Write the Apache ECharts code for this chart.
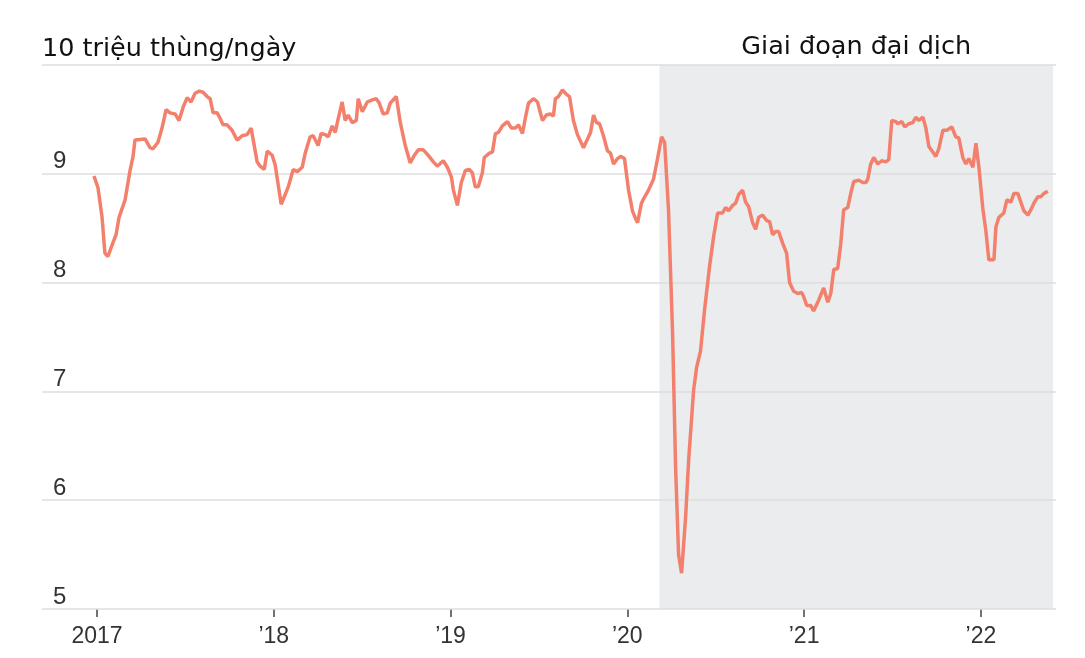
<!DOCTYPE html>
<html>
<head>
<meta charset="utf-8">
<script src="https://cdn.jsdelivr.net/npm/echarts@6/dist/echarts.min.js"></script>
<style>
  html, body { margin: 0; padding: 0; background: #fff; }
  #chart { width: 1085px; height: 658px; }
</style>
</head>
<body>
<div id="chart"></div>
<script>
// weekly output, decimal year -> 10 million barrels/day
const weeks = [
  2016.983, 2017.006, 2017.028, 2017.045, 2017.062, 2017.091, 2017.108, 2017.125, 2017.159, 2017.187,
  2017.204, 2017.215, 2017.272, 2017.300, 2017.317, 2017.345, 2017.368, 2017.391, 2017.413, 2017.442,
  2017.464, 2017.487, 2017.510, 2017.532, 2017.555, 2017.578, 2017.600, 2017.623, 2017.640, 2017.657,
  2017.680, 2017.696, 2017.713, 2017.736, 2017.764, 2017.793, 2017.821, 2017.849, 2017.872, 2017.906,
  2017.923, 2017.946, 2017.963, 2017.991, 2018.008, 2018.042, 2018.065, 2018.082, 2018.110, 2018.133,
  2018.161, 2018.178, 2018.206, 2018.223, 2018.251, 2018.268, 2018.291, 2018.308, 2018.331, 2018.348,
  2018.365, 2018.387, 2018.404, 2018.421, 2018.444, 2018.467, 2018.478, 2018.501, 2018.529, 2018.557,
  2018.580, 2018.597, 2018.619, 2018.642, 2018.659, 2018.693, 2018.716, 2018.744, 2018.772, 2018.795,
  2018.818, 2018.846, 2018.874, 2018.903, 2018.925, 2018.959, 2018.982, 2019.005, 2019.016, 2019.039,
  2019.061, 2019.084, 2019.106, 2019.123, 2019.140, 2019.157, 2019.180, 2019.191, 2019.220, 2019.237,
  2019.254, 2019.271, 2019.293, 2019.322, 2019.344, 2019.367, 2019.384, 2019.407, 2019.424, 2019.441,
  2019.469, 2019.492, 2019.520, 2019.542, 2019.565, 2019.582, 2019.593, 2019.610, 2019.633, 2019.656,
  2019.673, 2019.695, 2019.718, 2019.752, 2019.775, 2019.792, 2019.809, 2019.826, 2019.843, 2019.865,
  2019.888, 2019.905, 2019.922, 2019.945, 2019.962, 2019.984, 2020.007, 2020.029, 2020.046, 2020.058,
  2020.080, 2020.092, 2020.120, 2020.148, 2020.171, 2020.194, 2020.211, 2020.233, 2020.256, 2020.273,
  2020.290, 2020.307, 2020.330, 2020.347, 2020.375, 2020.392, 2020.414, 2020.437, 2020.466, 2020.488,
  2020.511, 2020.539, 2020.556, 2020.573, 2020.596, 2020.613, 2020.630, 2020.652, 2020.669, 2020.686,
  2020.709, 2020.726, 2020.743, 2020.766, 2020.788, 2020.805, 2020.822, 2020.839, 2020.856, 2020.879,
  2020.901, 2020.918, 2020.941, 2020.964, 2020.986, 2020.998, 2021.015, 2021.037, 2021.054, 2021.083,
  2021.111, 2021.134, 2021.151, 2021.168, 2021.190, 2021.207, 2021.224, 2021.247, 2021.264, 2021.281,
  2021.309, 2021.332, 2021.349, 2021.360, 2021.377, 2021.394, 2021.417, 2021.439, 2021.462, 2021.479,
  2021.496, 2021.519, 2021.530, 2021.553, 2021.570, 2021.592, 2021.615, 2021.632, 2021.649, 2021.672,
  2021.689, 2021.706, 2021.728, 2021.745, 2021.762, 2021.785, 2021.808, 2021.836, 2021.858, 2021.875,
  2021.898, 2021.915, 2021.932, 2021.955, 2021.972, 2021.989, 2022.011, 2022.028, 2022.045, 2022.074,
  2022.085, 2022.102, 2022.130, 2022.147, 2022.170, 2022.187, 2022.209, 2022.226, 2022.243, 2022.266,
  2022.283, 2022.300, 2022.323, 2022.340, 2022.357, 2022.379
];
const output = [
  8.98, 8.87, 8.61, 8.27, 8.24, 8.37, 8.44, 8.60, 8.76, 9.03,
  9.16, 9.31, 9.32, 9.24, 9.23, 9.29, 9.42, 9.59, 9.56, 9.55,
  9.49, 9.61, 9.70, 9.66, 9.74, 9.76, 9.75, 9.71, 9.69, 9.56,
  9.56, 9.51, 9.45, 9.45, 9.40, 9.31, 9.35, 9.36, 9.42, 9.11,
  9.07, 9.04, 9.21, 9.17, 9.08, 8.72, 8.81, 8.88, 9.04, 9.02,
  9.06, 9.19, 9.34, 9.35, 9.26, 9.37, 9.36, 9.34, 9.44, 9.38,
  9.51, 9.66, 9.49, 9.54, 9.47, 9.49, 9.69, 9.57, 9.66, 9.68,
  9.69, 9.65, 9.55, 9.56, 9.65, 9.71, 9.47, 9.26, 9.10, 9.17,
  9.22, 9.22, 9.17, 9.11, 9.07, 9.12, 9.06, 8.97, 8.85, 8.71,
  8.92, 9.03, 9.04, 9.01, 8.88, 8.88, 9.01, 9.15, 9.19, 9.20,
  9.37, 9.38, 9.44, 9.48, 9.42, 9.42, 9.45, 9.37, 9.52, 9.65,
  9.69, 9.66, 9.49, 9.54, 9.55, 9.53, 9.69, 9.71, 9.77, 9.73,
  9.71, 9.49, 9.36, 9.24, 9.32, 9.38, 9.54, 9.47, 9.46, 9.35,
  9.21, 9.19, 9.09, 9.14, 9.16, 9.14, 8.85, 8.66, 8.59, 8.55,
  8.73, 8.77, 8.85, 8.95, 9.14, 9.34, 9.29, 8.67, 7.54, 6.31,
  5.50, 5.33, 5.85, 6.37, 7.01, 7.22, 7.37, 7.75, 8.16, 8.42,
  8.64, 8.64, 8.69, 8.66, 8.71, 8.73, 8.81, 8.85, 8.74, 8.70,
  8.55, 8.49, 8.60, 8.62, 8.57, 8.56, 8.44, 8.47, 8.47, 8.36,
  8.27, 8.00, 7.92, 7.90, 7.91, 7.87, 7.79, 7.79, 7.74, 7.84,
  7.95, 7.82, 7.90, 8.12, 8.13, 8.35, 8.67, 8.69, 8.82, 8.93,
  8.94, 8.92, 8.92, 8.95, 9.09, 9.15, 9.09, 9.12, 9.11, 9.13,
  9.49, 9.48, 9.46, 9.48, 9.43, 9.46, 9.47, 9.52, 9.49, 9.52,
  9.42, 9.25, 9.20, 9.16, 9.23, 9.40, 9.40, 9.43, 9.34, 9.33,
  9.15, 9.09, 9.14, 9.06, 9.28, 9.06, 8.68, 8.48, 8.21, 8.21,
  8.51, 8.60, 8.64, 8.76, 8.74, 8.82, 8.82, 8.74, 8.66, 8.62,
  8.67, 8.73, 8.79, 8.79, 8.82, 8.84
];
const yearTicks = [2017, 2018, 2019, 2020, 2021, 2022];
const pandemic = [2020.182, 2022.408];

const chart = echarts.init(document.getElementById("chart"));

chart.setOption({
  animation: false,
  grid: { left: 42, right: 29, top: 65, bottom: 49 },
  graphic: [{
    type: "text",
    left: 42,
    top: 36,
    style: {
      text: "10 triệu thùng/ngày",
      font: '25.5px "DejaVu Sans"',
      fill: "#111"
    }
  }],
  xAxis: {
    type: "value",
    min: 2016.689,
    max: 2022.425,
    splitLine: { show: false },
    axisLine: { show: false },
    axisTick: {
      customValues: yearTicks,
      length: 8,
      lineStyle: { color: "#444", width: 1.5 }
    },
    axisLabel: {
      customValues: yearTicks,
      margin: 16,
      color: "#333",
      fontSize: 23,
      fontFamily: '"Liberation Sans Narrow", "Liberation Sans", sans-serif',
      formatter: (v) => (v === 2017 ? "2017" : "\u2019" + String(v).slice(2))
    }
  },
  yAxis: {
    type: "value",
    min: 5,
    max: 10,
    interval: 1,
    z: 2,
    axisLine: { show: false },
    axisTick: { show: false },
    splitLine: { lineStyle: { color: "#dedede", width: 1.5 } },
    axisLabel: {
      inside: true,
      showMaxLabel: false,
      margin: 11,
      verticalAlign: "bottom",
      color: "#333",
      fontSize: 24,
      fontFamily: '"Liberation Sans", sans-serif'
    }
  },
  series: [
    {
      // shaded pandemic band, kept under the grid lines
      type: "line",
      data: [],
      z: 0,
      markArea: {
        silent: true,
        z: 0,
        itemStyle: { color: "#ebecee" },
        label: {
          show: true,
          position: "top",
          distance: 5,
          color: "#111",
          fontSize: 25.5,
          fontFamily: '"DejaVu Sans"'
        },
        data: [[
          { name: "Giai đoạn đại dịch", xAxis: pandemic[0] },
          { xAxis: pandemic[1] }
        ]]
      }
    },
    {
      type: "line",
      data: weeks.map((w, i) => [w, output[i]]),
      showSymbol: false,
      lineStyle: { color: "#f3806c", width: 3.5 },
      z: 3
    }
  ]
});

window.onresize = function () {
  chart.resize();
};
</script>
</body>
</html>
